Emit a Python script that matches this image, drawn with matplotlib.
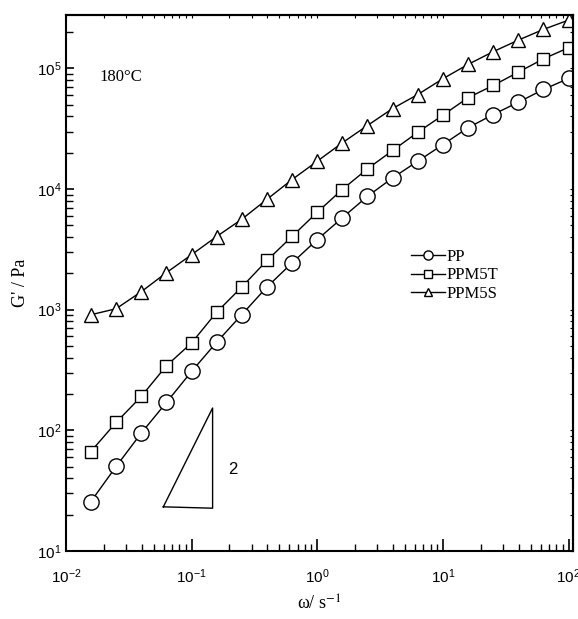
import numpy as np
import matplotlib
matplotlib.use("Agg")
import matplotlib.pyplot as plt
from matplotlib.ticker import LogLocator, FuncFormatter, NullFormatter

# ---- data ----
omega = [0.0158, 0.0251, 0.0398, 0.0631, 0.1, 0.158, 0.251, 0.398, 0.631, 1.0,
         1.58, 2.51, 3.98, 6.31, 10.0, 15.8, 25.1, 39.8, 63.1, 100.0]
pp_log = [1.409, 1.700, 1.977, 2.231, 2.488, 2.729, 2.959, 3.188, 3.388, 3.581,
          3.761, 3.940, 4.093, 4.231, 4.369, 4.508, 4.618, 4.720, 4.826, 4.917]
ppm5t_log = [1.824, 2.065, 2.281, 2.535, 2.724, 2.978, 3.188, 3.408, 3.608, 3.808,
             3.996, 4.168, 4.320, 4.471, 4.613, 4.757, 4.859, 4.969, 5.080, 5.172]
ppm5s_log = [2.958, 3.008, 3.149, 3.307, 3.456, 3.606, 3.750, 3.915, 4.079, 4.231,
             4.383, 4.527, 4.668, 4.784, 4.915, 5.033, 5.139, 5.235, 5.324, 5.401]
series_names = ["PP", "PPM5T", "PPM5S"]
series_markers = ["o", "s", "^"]

pp = [10 ** v for v in pp_log]
ppm5t = [10 ** v for v in ppm5t_log]
ppm5s = [10 ** v for v in ppm5s_log]

# slope triangle (slope 2) guide
tri_x = [0.0596, 0.147, 0.147, 0.0596]
tri_y = [23.2, 22.6, 153.0, 23.2]

plt.rcParams["font.family"] = ["Liberation Sans", "DejaVu Sans"]

fig = plt.figure(figsize=(5.78, 6.19), dpi=100)
ax = fig.add_axes([0.114, 0.110, 0.877, 0.865])

msizes = [11, 8.5, 10]
for ys, name, mk, ms in zip([pp, ppm5t, ppm5s], series_names, series_markers, msizes):
    ax.plot(omega, ys, color="black", lw=1.0, marker=mk, ms=ms,
            mfc="white", mec="black", mew=1.0, label=name)

ax.plot(tri_x, tri_y, color="black", lw=1.0)
ax.text(0.214, 47, "2", fontsize=12, ha="center", va="center",
        family="Liberation Sans")

ax.set_xscale("log")
ax.set_yscale("log")
ax.set_xlim(0.01, 108)
ax.set_ylim(10, 2.75e5)

fmt = FuncFormatter(lambda v, p: r"$\mathregular{10^{%d}}$" % int(round(np.log10(v))))
for axis in (ax.xaxis, ax.yaxis):
    axis.set_major_locator(LogLocator(base=10, numticks=20))
    axis.set_minor_locator(LogLocator(base=10, subs=np.arange(2, 10), numticks=20))
    axis.set_major_formatter(fmt)
    axis.set_minor_formatter(NullFormatter())

ax.tick_params(which="both", direction="in", top=False, right=False)
ax.tick_params(axis="x", which="major", length=9, width=1.2, pad=12, labelsize=11)
ax.tick_params(axis="x", which="minor", length=5, width=1.0)
ax.tick_params(axis="y", which="major", length=6, width=1.2, pad=3, labelsize=11)
ax.tick_params(axis="y", which="minor", length=5, width=1.0)
for s in ax.spines.values():
    s.set_linewidth(1.5)

# short ticks on top and right
secx = ax.secondary_xaxis("top")
secy = ax.secondary_yaxis("right")
for sec, axis in ((secx, secx.xaxis), (secy, secy.yaxis)):
    axis.set_major_locator(LogLocator(base=10, numticks=20))
    axis.set_minor_locator(LogLocator(base=10, subs=np.arange(2, 10), numticks=20))
    axis.set_major_formatter(NullFormatter())
    axis.set_minor_formatter(NullFormatter())
    sec.tick_params(which="both", direction="in", length=2.5, width=0.8)
    for s in sec.spines.values():
        s.set_linewidth(1.5)

ax.set_xlabel(r"ω/ s$^{-1}$", fontsize=13, family="Liberation Serif",
              math_fontfamily="stix", labelpad=6)
ax.set_ylabel("G' / Pa", fontsize=13, family="Liberation Serif", labelpad=6)

ax.text(0.067, 0.885, "180°C", transform=ax.transAxes, fontsize=12,
        family="Liberation Serif", va="center")

leg = ax.legend(loc="upper left", bbox_to_anchor=(0.652, 0.592), frameon=False,
                prop={"family": "Liberation Serif", "size": 12},
                handlelength=2.0, handletextpad=0.1, labelspacing=0.15,
                markerscale=0.6)

fig.savefig("out.png", dpi=100)
